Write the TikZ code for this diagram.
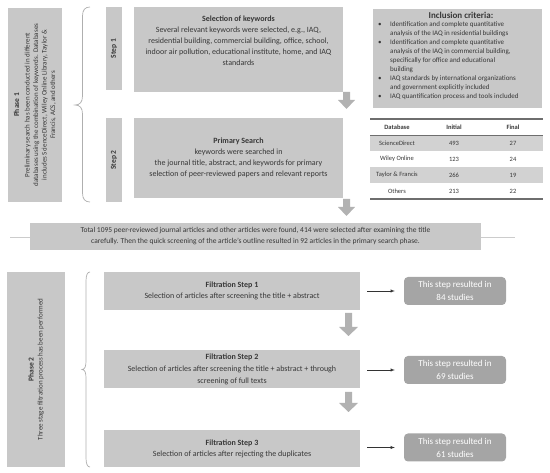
\documentclass[tikz,border=0pt]{standalone}
\usepackage{fontspec}
\setmainfont{Carlito}
\definecolor{boxgray}{RGB}{200,200,200}
\definecolor{arrowgray}{RGB}{178,178,178}
\definecolor{resgray}{RGB}{165,165,165}
\definecolor{rowgray}{RGB}{210,210,210}
\definecolor{txtcol}{RGB}{55,55,55}
\definecolor{bracecol}{RGB}{175,175,175}
\definecolor{rulecol}{RGB}{110,110,110}
\begin{document}
\begin{tikzpicture}[x=1pt,y=-1pt,
  box/.style={fill=boxgray, inner sep=2pt, align=center, text=txtcol},
  res/.style={fill=resgray, rounded corners=4pt, text=white, align=center,
    minimum width=102pt, minimum height=28pt, font=\fontsize{9}{13}\selectfont},
  cell/.style={font=\fontsize{6.5}{8}\selectfont, text=txtcol, inner sep=0pt},
  bracestyle/.style={draw=bracecol, line width=0.7pt},
  blockarrow/.style={fill=arrowgray},
  thinarrow/.style={draw=black!80, line width=0.5pt, -latex, shorten <=7pt, shorten >=9pt}
]
\useasboundingbox (0,0) rectangle (550,473);

% ---------- Phase 1 ----------
\node[box, rotate=90, minimum width=194pt, minimum height=54pt,
  font=\fontsize{7}{8.5}\selectfont] (p1) at (35,105)
  {{\fontsize{7.5}{9}\selectfont\bfseries Phase 1}\\[2pt]
   Preliminary search has been conducted in different\\
   databases using the combination of keywords. Databases\\
   includes ScienceDirect, Wiley Online Library, Taylor \&\\
   Francis, ACS, and others};

\draw[bracestyle] (90,7) .. controls (85,7) and (82.5,10) .. (82.5,16) -- (82.5,96)
  .. controls (82.5,102) and (80,105) .. (75,105)
  .. controls (80,105) and (82.5,108) .. (82.5,114) -- (82.5,193)
  .. controls (82.5,199) and (85,202) .. (90,202);

\node[box, rotate=90, minimum width=83pt, minimum height=16pt,
  font=\fontsize{7.5}{9}\selectfont\bfseries] (s1) at (114,48.5) {Step 1};
\node[box, rotate=90, minimum width=84pt, minimum height=16pt,
  font=\fontsize{7.5}{9}\selectfont\bfseries] (s2) at (114,160) {Step 2};

\node[box, minimum width=209pt, minimum height=85pt,
  font=\fontsize{8}{11}\selectfont] (kw) at (238.5,49.5)
  {\textbf{Selection of keywords}\\
   Several relevant keywords were selected, e.g., IAQ,\\
   residential building, commercial building, office, school,\\
   indoor air pollution, educational institute, home, and IAQ\\
   standards\\[6pt]};

\node[box, minimum width=209pt, minimum height=80pt,
  font=\fontsize{8}{11}\selectfont] (ps) at (238.5,158)
  {\textbf{Primary Search}\\
   keywords were searched in\\
   the journal title, abstract, and keywords for primary\\
   selection of peer-reviewed papers and relevant reports};

% down arrows phase 1
\coordinate (a1) at (346.5,92);
\fill[blockarrow] (a1) ++(-3.5,0) -- ++(0,8) -- ++(-5,0) -- ++(8.5,9) -- ++(8.5,-9) -- ++(-5,0) -- ++(0,-8) -- cycle;
\coordinate (a2) at (346.5,199);
\fill[blockarrow] (a2) ++(-3.5,0) -- ++(0,8) -- ++(-5,0) -- ++(8.5,9) -- ++(8.5,-9) -- ++(-5,0) -- ++(0,-8) -- cycle;

% Inclusion criteria
\node[box, minimum width=169pt, minimum height=99pt, anchor=north west, inner sep=0pt] (inc) at (373,9) {};
\node[font=\fontsize{9}{11}\selectfont\bfseries, text=txtcol, inner sep=0pt] (inct) at (461,15.5) {Inclusion criteria:};
\node[anchor=north west, inner sep=0pt, text=txtcol, font=\fontsize{7}{9}\selectfont] (incl) at (378,20)
  {\begin{tabular}{@{}p{12pt}@{}l@{}}
   \textbullet & Identification and complete quantitative\\
   & analysis of the IAQ in residential buildings\\
   \textbullet & Identification and complete quantitative\\
   & analysis of the IAQ in commercial building,\\
   & specifically for office and educational\\
   & building\\
   \textbullet & IAQ standards by international organizations\\
   & and government explicitly included\\
   \textbullet & IAQ quantification process and tools included
   \end{tabular}};

% Table
\fill[rowgray] (370,135) rectangle (543,151);
\fill[rowgray] (370,167) rectangle (543,183);
\draw[rulecol, line width=1.2pt] (370,119) -- (543,119);
\draw[rulecol, line width=0.8pt] (370,135) -- (543,135);
\draw[rulecol, line width=1.2pt] (370,199) -- (543,199);
\node[cell, font=\fontsize{6.5}{8}\selectfont\bfseries] (h1) at (397,127) {Database};
\node[cell, font=\fontsize{6.5}{8}\selectfont\bfseries] (h2) at (454,127) {Initial};
\node[cell, font=\fontsize{6.5}{8}\selectfont\bfseries] (h3) at (513,127) {Final};
\node[cell] (d1) at (397,143) {ScienceDirect};
\node[cell] (i1) at (454,143) {493};
\node[cell] (f1) at (513,143) {27};
\node[cell] (d2) at (397,159) {Wiley Online};
\node[cell] (i2) at (454,159) {123};
\node[cell] (f2) at (513,159) {24};
\node[cell] (d3) at (397,175) {Taylor \& Francis};
\node[cell] (i3) at (454,175) {266};
\node[cell] (f3) at (513,175) {19};
\node[cell] (d4) at (397,191) {Others};
\node[cell] (i4) at (454,191) {213};
\node[cell] (f4) at (513,191) {22};

% Separator and total
\draw[black!20, line width=0.6pt] (10,237) -- (515,237);
\node[box, minimum width=451pt, minimum height=27pt,
  font=\fontsize{7.5}{11}\selectfont] (tot) at (255.5,236.5)
  {Total 1095 peer-reviewed journal articles and other articles were found, 414 were selected after examining the title\\
   carefully. Then the quick screening of the article’s outline resulted in 92 articles in the primary search phase.};

% ---------- Phase 2 ----------
\node[box, rotate=90, minimum width=195pt, minimum height=58pt,
  font=\fontsize{7}{9}\selectfont] (p2) at (36,369.5)
  {{\fontsize{7.5}{9}\selectfont\bfseries Phase 2}\\
   Three stage filtration process has been performed};

\draw[bracestyle] (90,272) .. controls (87.5,272) and (86,275) .. (86,281) -- (86,361)
  .. controls (86,366) and (85,369.5) .. (82,369.5)
  .. controls (85,369.5) and (86,373) .. (86,378) -- (86,458)
  .. controls (86,464) and (87.5,467) .. (90,467);

\node[box, minimum width=256pt, minimum height=38pt,
  font=\fontsize{8}{10.5}\selectfont] (f1b) at (232,291)
  {\textbf{Filtration Step 1}\\Selection of articles after screening the title + abstract};
\node[box, minimum width=256pt, minimum height=38pt,
  font=\fontsize{8}{12}\selectfont] (f2b) at (232,369)
  {\textbf{Filtration Step 2}\\Selection of articles after screening the title + abstract + through\\screening of full texts};
\node[box, minimum width=256pt, minimum height=37pt,
  font=\fontsize{8}{11}\selectfont] (f3b) at (232,448.5)
  {\textbf{Filtration Step 3}\\Selection of articles after rejecting the duplicates};

\coordinate (a3) at (348.5,313);
\fill[blockarrow] (a3) ++(-3.5,0) -- ++(0,14) -- ++(-6,0) -- ++(9.5,9) -- ++(9.5,-9) -- ++(-6,0) -- ++(0,-14) -- cycle;
\coordinate (a4) at (348.5,392);
\fill[blockarrow] (a4) ++(-3.5,0) -- ++(0,11) -- ++(-6,0) -- ++(9.5,9) -- ++(9.5,-9) -- ++(-6,0) -- ++(0,-11) -- cycle;

\node[res] (r1) at (455,291) {This step resulted in\\84 studies};
\node[res] (r2) at (455,370) {This step resulted in\\69 studies};
\node[res] (r3) at (455,447.5) {This step resulted in\\61 studies};

\draw[thinarrow] (f1b.east) -- (r1.west);
\draw[thinarrow] (f2b.east |- r2.west) -- (r2.west);
\draw[thinarrow] (f3b.east |- r3.west) -- (r3.west);
\end{tikzpicture}
\end{document}
